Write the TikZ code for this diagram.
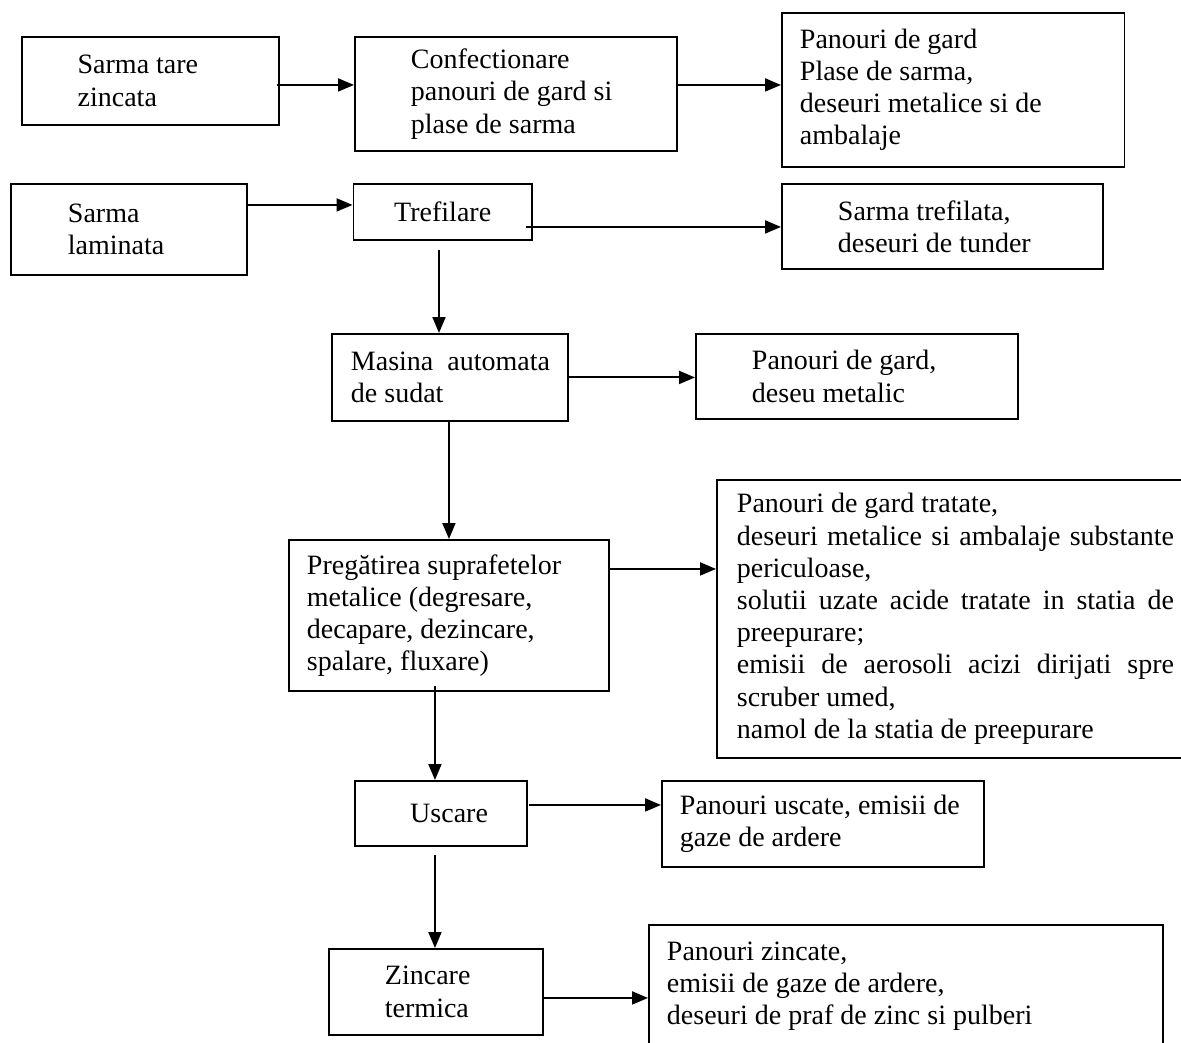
\documentclass[tikz,border=0pt]{standalone}
\usepackage{fontspec}
\setmainfont{Liberation Serif}
\usetikzlibrary{arrows.meta}

\tikzset{
  flowbox/.style={draw, line width=1.9pt, rectangle, anchor=north west,
        align=flush left, inner ysep=0pt, font=\fontsize{28}{32.2}\selectfont},
  flowarrow/.style={line width=2pt, -{Triangle[length=16pt,width=13pt]}},
}

\begin{document}
\begin{tikzpicture}[x=1pt, y=-1pt]
      \useasboundingbox (0,0) rectangle (1181,1043);
      \node[flowbox, inner xsep=56pt, text width=145pt, minimum height=88pt] (sarmaz) at (20.7,36)
            {Sarma tare\\zincata};
      \node[flowbox, inner xsep=56pt, text width=210pt, minimum height=114pt] (confect) at (354,36)
            {Confectionare\\\mbox{panouri de gard si}\\plase de sarma};
      \node[flowbox, inner xsep=18pt, text width=306.5pt, minimum height=154pt] (panouri) at (781,12)
            {Panouri de gard\\Plase de sarma,\\\mbox{deseuri metalice si de}\\ambalaje};
      \node[flowbox, inner xsep=57pt, text width=122pt, minimum height=91pt] (sarmal) at (10,183)
            {Sarma\\laminata};
      \node[flowbox, align=flush center, inner xsep=20pt, text width=138.5pt, minimum height=56pt] (tref) at (352.5,183)
            {Trefilare};
      \node[flowbox, inner xsep=56pt, text width=209pt, minimum height=85pt] (trefout) at (781,183)
            {Sarma trefilata,\\\mbox{deseuri de tunder}};
      \node[flowbox, inner xsep=19pt, text width=198pt, minimum height=87pt] (sudat) at (331,333)
            {\mbox{Masina\ \ automata}\\de sudat};
      \node[flowbox, inner xsep=56pt, text width=209.7pt, minimum height=85pt] (sudatout) at (695,333)
            {Panouri de gard,\\deseu metalic};
      \node[flowbox, inner xsep=18pt, text width=284pt, minimum height=151pt] (pregat) at (288,539)
            {\mbox{Pregătirea suprafetelor}\\\mbox{metalice (degresare,}\\\mbox{decapare, dezincare,}\\spalare, fluxare)};
      \node[flowbox, inner xsep=20pt, text width=437pt, minimum height=278pt] (pregatout) at (716,479)
            {Panouri de gard tratate,\\
             \makebox[437pt][s]{deseuri metalice si ambalaje substante}\\
             periculoase,\\
             \makebox[437pt][s]{solutii uzate acide tratate in statia de}\\
             preepurare;\\
             \makebox[437pt][s]{emisii de aerosoli acizi dirijati spre}\\
             scruber umed,\\
             \mbox{namol de la statia de preepurare}};
      \node[flowbox, align=flush right, inner xsep=39pt, text width=94pt, minimum height=65pt] (usc) at (354,780)
            {Uscare};
      \node[flowbox, inner xsep=18pt, text width=286pt, minimum height=86pt] (uscout) at (661,780)
            {\mbox{Panouri uscate, emisii de}\\gaze de ardere};
      \node[flowbox, inner xsep=56pt, text width=101.6pt, minimum height=86pt] (zinc) at (328,948)
            {Zincare\\termica};
      \node[flowbox, inner xsep=18pt, text width=478pt, minimum height=122pt] (zincout) at (648,924)
            {Panouri zincate,\\emisii de gaze de ardere,\\\mbox{deseuri de praf de zinc si pulberi}};
      \coordinate (a1) at ([shift={(-3pt,-4pt)}]sarmaz.east);
      \draw[flowarrow] (a1) -- (a1 -| confect.west);
      \coordinate (b1) at ([yshift=9pt]confect.east);
      \draw[flowarrow] (b1) -- (b1 -| panouri.west);
      \coordinate (d1) at ([yshift=24.5pt]sarmal.east);
      \draw[flowarrow] (d1) -- (d1 -| tref.west);
      \coordinate (e1) at ([shift={(-7pt,-15pt)}]tref.east);
      \draw[flowarrow] (e1) -- (e1 -| trefout.west);
      \coordinate (e2) at ([shift={(-3.7pt,-9pt)}]tref.south);
      \draw[flowarrow] (e2) -- (e2 |- sudat.north);
      \draw[flowarrow] (sudat.east) -- (sudat.east -| sudatout.west);
      \coordinate (s1) at ([xshift=-1pt]sudat.south);
      \draw[flowarrow] (s1) -- (s1 |- pregat.north);
      \coordinate (p1) at ([yshift=46.5pt]pregat.east);
      \draw[flowarrow] (p1) -- (p1 -| pregatout.west);
      \coordinate (p2) at ([shift={(-14pt,6pt)}]pregat.south);
      \draw[flowarrow] (p2) -- (p2 |- usc.north);
      \coordinate (u1) at ([shift={(1.5pt,8.5pt)}]usc.east);
      \draw[flowarrow] (u1) -- (u1 -| uscout.west);
      \coordinate (u2) at ([shift={(-6pt,-8pt)}]usc.south);
      \draw[flowarrow] (u2) -- (u2 |- zinc.north);
      \coordinate (z1) at ([yshift=-6pt]zinc.east);
      \draw[flowarrow] (z1) -- (z1 -| zincout.west);
    \end{tikzpicture}
\end{document}
